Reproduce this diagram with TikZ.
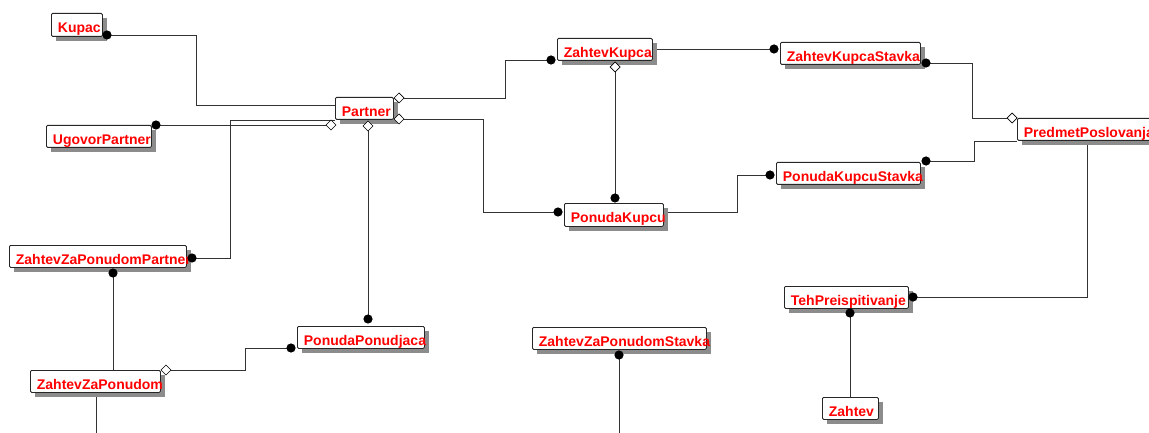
\documentclass[tikz,border=0pt]{standalone}
\usepackage{fontspec}
\newfontfamily\erfont{Liberation Sans}
\tikzset{
  entbox/.style={draw=black!85, line width=0.8pt, fill=white, rounded corners=1.2pt,
    anchor=north west, inner xsep=6.5pt, inner ysep=0pt, align=left,
    text height=15.5pt, text depth=0pt,
    text=red, font=\erfont\bfseries\fontsize{14}{16}\selectfont},
  entshadow/.style={fill=black!45},
  rel/.style={draw=black!80, line width=0.8pt},
  many/.style={fill=black},
  opt/.style={draw=black, line width=0.7pt, fill=white}
}
% \erbox{name}{x}{y}{width}{height}{label}
\newcommand\erbox[6]{%
  \fill[entshadow] (#2+5,#3+5) rectangle (#2+#4+5,#3+#5+5);
  \node[entbox, text width=#4pt-13pt, minimum height=#5pt] (#1) at (#2,#3) {#6};
}
\newcommand\erdot[1]{\fill[many] (#1) circle (4.6pt);}
\newcommand\erdiamond[1]{\filldraw[opt] (#1) ++(-5pt,0) -- ++(5pt,5pt) -- ++(5pt,-5pt) -- ++(-5pt,-5pt) -- cycle;}
\begin{document}
\begin{tikzpicture}[x=1pt,y=-1pt]
\useasboundingbox (0,0) rectangle (1149,433);
\fill[white] (0,0) rectangle (1149,433);

% connectors (drawn under the entity boxes)
\coordinate (kupacR) at (107,35);
\coordinate (ugovorR) at (156,125);
\coordinate (pDiaL) at (331,125);
\coordinate (pDiaB) at (368,126);
\coordinate (pDiaT) at (399,98);
\coordinate (pDiaR) at (399,119);
\coordinate (zzppR) at (192,258);
\coordinate (zzppB) at (113,273);
\coordinate (ppT) at (368,319);
\coordinate (ppL) at (291,348);
\coordinate (zzpDia) at (166,370);
\coordinate (zkL) at (551,60);
\coordinate (zkDia) at (615,67);
\coordinate (pkT) at (615,198);
\coordinate (pkL) at (558,212);
\coordinate (zksL) at (774,49);
\coordinate (zksR) at (926,63);
\coordinate (pksL) at (770,175);
\coordinate (pksR) at (926,161);
\coordinate (ppDia) at (1012,118);
\coordinate (tehR) at (913,297);
\coordinate (tehB) at (850,313);
\coordinate (zzpsB) at (619,355);
\coordinate (bottomA) at (96,433);
\coordinate (bottomB) at (619,433);

\draw[rel] (kupacR) -- (196,35) -- (196,105) -- (335,105);
\draw[rel] (ugovorR) -- (pDiaL);
\draw[rel] (335,120) -- (230,120) -- (230,258) -- (zzppR);
\draw[rel] (pDiaB) -- (ppT);
\draw[rel] (pDiaT) -- (505,98) -- (505,60) -- (zkL);
\draw[rel] (pDiaR) -- (483,119) -- (483,212) -- (pkL);
\draw[rel] (652,49) -- (zksL);
\draw[rel] (zkDia) -- (pkT);
\draw[rel] (663,212) -- (737,212) -- (737,175) -- (pksL);
\draw[rel] (zksR) -- (972,63) -- (972,118) -- (ppDia);
\draw[rel] (pksR) -- (974,161) -- (974,141) -- (1017,141);
\draw[rel] (1087,140) -- (1087,297) -- (tehR);
\draw[rel] (tehB) -- (850,397);
\draw[rel] (zzppB) -- (113,370);
\draw[rel] (zzpDia) -- (245,370) -- (245,348) -- (ppL);
\draw[rel] (96,392) -- (bottomA);
\draw[rel] (zzpsB) -- (bottomB);

% entities
\erbox{kupac}{51}{13}{51}{23}{Kupac}
\erbox{partner}{335}{97}{58}{22}{Partner}
\erbox{ugovor}{46}{125}{105}{22}{UgovorPartner}
\erbox{zzpp}{9}{245}{177}{22}{ZahtevZaPonudomPartner}
\erbox{zzp}{30}{370}{130}{22}{ZahtevZaPonudom}
\erbox{pp}{297}{326}{127}{22}{PonudaPonudjaca}
\erbox{zk}{557}{38}{95}{22}{ZahtevKupca}
\erbox{pk}{564}{203}{99}{23}{PonudaKupcu}
\erbox{zks}{780}{42}{140}{22}{ZahtevKupcaStavka}
\erbox{pks}{776}{162}{144}{22}{PonudaKupcuStavka}
\erbox{predmet}{1017}{118}{150}{22}{PredmetPoslovanja}
\erbox{teh}{784}{286}{124}{22}{TehPreispitivanje}
\erbox{zahtev}{822}{397}{56}{22}{Zahtev}
\erbox{zzps}{532}{327}{174}{22}{ZahtevZaPonudomStavka}

% relationship ends
\erdot{kupacR}
\erdot{ugovorR}
\erdot{zzppR}
\erdot{zzppB}
\erdot{ppT}
\erdot{ppL}
\erdot{zkL}
\erdot{pkT}
\erdot{pkL}
\erdot{zksL}
\erdot{zksR}
\erdot{pksL}
\erdot{pksR}
\erdot{tehR}
\erdot{tehB}
\erdot{zzpsB}
\erdiamond{pDiaL}
\erdiamond{pDiaB}
\erdiamond{pDiaT}
\erdiamond{pDiaR}
\erdiamond{zzpDia}
\erdiamond{zkDia}
\erdiamond{ppDia}
\end{tikzpicture}
\end{document}
